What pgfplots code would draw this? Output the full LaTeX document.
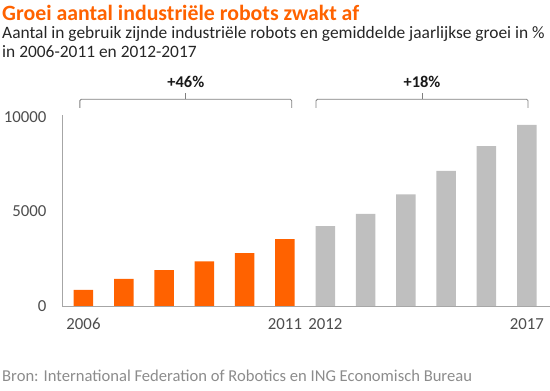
\documentclass[border=0pt]{standalone}
\usepackage{pgfplots}
\pgfplotsset{compat=1.18}
\usepackage{fontspec}
\setmainfont{Carlito}
\definecolor{ingorange}{HTML}{FF6200}
\definecolor{inggray}{HTML}{BFBFBF}
\definecolor{ticktext}{HTML}{4D4D4D}
\definecolor{srctext}{HTML}{8C8C8C}
\definecolor{axisline}{HTML}{A6A6A6}
\definecolor{brack}{HTML}{7F7F7F}
\begin{document}
\begin{tikzpicture}[x=1pt,y=1pt]
\path[use as bounding box] (0,0) rectangle (550,391);
\node[anchor=base west, inner sep=0pt, text=ingorange, font=\fontsize{21.8}{24}\selectfont\bfseries] at (2,370.5) {Groei aantal industriële robots zwakt af};
\node[anchor=base west, inner sep=0pt, text=black!85, font=\fontsize{17.4}{20}\selectfont] at (2,352) {Aantal in gebruik zijnde industriële robots en gemiddelde jaarlijkse groei in \%};
\node[anchor=base west, inner sep=0pt, text=black!85, font=\fontsize{17.4}{20}\selectfont] at (2,333) {in 2006-2011 en 2012-2017};
\node[anchor=base west, inner sep=0pt, text=srctext, font=\fontsize{16.6}{18}\selectfont] at (2,9) {Bron: International Federation of Robotics en ING Economisch Bureau};
\begin{axis}[
  at={(62pt,85pt)}, anchor=south west,
  scale only axis, width=488pt, height=191pt,
  xmin=-0.533, xmax=11.576, ymin=0, ymax=10100,
  axis lines=left, axis line style={draw=axisline, line width=0.8pt, -},
  clip=false,
  xtick={0,5,6,11}, xticklabels={2006,2011,2012,2017},
  ytick={0,5000,10000},
  major tick length=0pt,
  tick label style={text=ticktext, font=\fontsize{16.8}{18}\selectfont},
  /pgf/number format/assume math mode=true,
  scaled y ticks=false,
  yticklabel style={/pgf/number format/1000 sep={}, xshift=-12pt},
  xticklabel style={yshift=-9pt},
  ybar, bar width=19.5pt, bar shift=0pt,
]
\addplot[fill=ingorange, draw=none] coordinates {(0,850) (1,1430) (2,1900) (3,2360) (4,2800) (5,3540)};
\addplot[fill=inggray, draw=none] coordinates {(6,4230) (7,4870) (8,5900) (9,7140) (10,8460) (11,9580)};
\draw[brack, line width=0.8pt, rounded corners=1.5pt] (axis cs:-0.09,10476) -- (axis cs:-0.09,10937) -- (axis cs:5.17,10937) -- (axis cs:5.17,10476);
\draw[brack, line width=0.8pt] (axis cs:2.54,10937) -- (axis cs:2.54,11270);
\draw[brack, line width=0.8pt, rounded corners=1.5pt] (axis cs:5.77,10476) -- (axis cs:5.77,10937) -- (axis cs:11.03,10937) -- (axis cs:11.03,10476);
\draw[brack, line width=0.8pt] (axis cs:8.40,10937) -- (axis cs:8.40,11270);
\node[font=\fontsize{16.4}{18}\selectfont\bfseries, text=black!90] at (axis cs:2.54,11852) {+46\%};
\node[font=\fontsize{16.4}{18}\selectfont\bfseries, text=black!90] at (axis cs:8.40,11852) {+18\%};
\end{axis}
\end{tikzpicture}
\end{document}
